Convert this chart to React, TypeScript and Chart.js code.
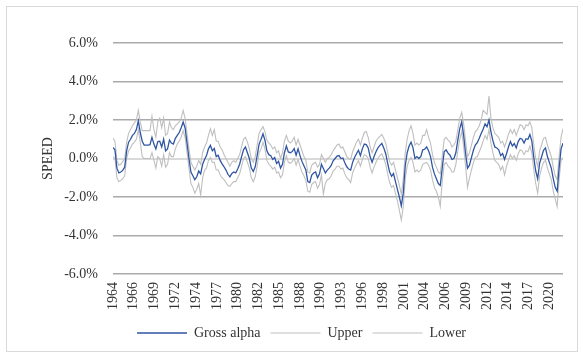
import React, { useEffect, useRef } from "react";
import { Chart, registerables } from "chart.js";

Chart.register(...registerables);

const START_YEAR = 1964;
const TICK_LABELS = [
  "1964", "1966", "1969", "1972", "1974", "1977", "1980", "1982", "1985", "1988", "1990",
  "1993", "1996", "1998", "2001", "2004", "2006", "2009", "2012", "2014", "2017", "2020",
];
const Y_TICKS = [-6, -4, -2, 0, 2, 4, 6];

// Quarterly values, one row per year (1964 .. 2021)
const GROSS_ALPHA = [
  0.57, 0.45, -0.5, -0.75,
  -0.7, -0.62, -0.45, 0.4,
  0.85, 1.0, 1.2, 1.3,
  1.5, 1.95, 1.35, 0.9,
  0.7, 0.7, 0.7, 0.72,
  1.1, 0.75, 0.5, 0.88,
  0.9, 0.6, 1.0, 0.4,
  0.5, 0.95, 0.8, 0.75,
  1.05, 1.2, 1.35, 1.6,
  1.9, 1.6, 0.8, 0.0,
  -0.7, -0.9, -1.1, -0.95,
  -0.65, -0.8, -0.3, -0.05,
  0.15, 0.5, 0.68, 0.4,
  0.52, 0.1, 0.17, -0.1,
  -0.28, -0.43, -0.6, -0.82,
  -0.95, -0.78, -0.7, -0.75,
  -0.55, -0.3, 0.1, 0.45,
  0.6, 0.3, 0.0, -0.5,
  -0.68, -0.43, 0.15, 0.75,
  1.0, 1.28, 0.95, 0.4,
  0.2, 0.15, -0.05, 0.05,
  -0.26, -0.15, -0.5, -0.3,
  0.3, 0.65, 0.34, 0.3,
  0.36, 0.52, 0.17, 0.5,
  0.15, -0.15, -0.38, -0.6,
  -1.2, -1.25, -0.86, -0.75,
  -0.7, -1.0, -0.8, -0.3,
  -0.52, -0.75, -0.6, -0.5,
  -0.36, -0.12, 0.0, 0.12,
  0.15, 0.0, 0.03, -0.22,
  -0.43, -0.55, -0.6, -0.2,
  0.05, 0.25, 0.43, 0.15,
  0.5, 0.75, 0.72, 0.55,
  0.09, -0.2, 0.1, 0.35,
  0.55, 0.68, 0.78, 0.55,
  0.25, -0.25, -0.7, -0.92,
  -0.78, -1.2, -1.6, -2.0,
  -2.45, -1.8, -0.4, 0.3,
  0.65, 0.85, 0.55, 0.0,
  0.1, 0.0, 0.1, 0.45,
  0.48, 0.6, 0.4, 0.1,
  -0.45, -0.8, -1.05, -1.3,
  -1.4, -0.5, 0.35, 0.45,
  0.28, 0.17, -0.05, 0.0,
  0.3, 0.95, 1.55, 1.9,
  1.2, 0.25, -0.5, -0.35,
  0.05, 0.43, 0.7, 0.82,
  1.05, 1.3, 1.52, 1.8,
  1.65, 2.0, 1.4, 0.93,
  0.6, 0.55, 0.45, 0.15,
  0.26, -0.05, 0.25, 0.6,
  0.88, 0.65, 0.78, 0.55,
  0.88, 1.05, 1.0, 0.8,
  1.03, 1.0, 1.25, 0.9,
  0.05, -0.65, -1.05, -0.25,
  0.09, 0.43, 0.55, 0.1,
  -0.2, -0.5, -1.05, -1.5,
  -1.7, -0.5, 0.5, 0.8,
];

const UPPER = [
  1.05, 0.9, -0.1, -0.35,
  -0.3, -0.15, 0.0, 0.85,
  1.3, 1.5, 1.7, 1.85,
  2.0, 2.5, 1.9, 1.45,
  1.45, 1.45, 1.45, 1.45,
  2.2, 1.5, 1.1, 1.9,
  2.1, 1.6, 2.1, 1.2,
  1.3, 1.9, 1.6, 1.5,
  1.7, 1.8, 1.9, 2.1,
  2.5, 2.1, 1.3, 0.5,
  -0.2, -0.4, -0.6, -0.4,
  -0.1, -0.3, 0.3, 0.6,
  0.8, 1.2, 1.55, 1.2,
  1.5, 0.9, 0.9, 0.6,
  0.45, 0.2, 0.0, -0.2,
  -0.4, -0.2, -0.1, -0.2,
  0.0, 0.2, 0.6, 1.0,
  1.1, 0.85, 0.5, 0.0,
  -0.2, 0.1, 0.7, 1.3,
  1.5, 1.65, 1.4, 0.95,
  0.8, 0.7, 0.5, 0.6,
  0.3, 0.4, 0.0, 0.3,
  0.9, 1.2, 0.9, 0.8,
  0.9, 1.1, 0.7, 1.0,
  0.7, 0.4, 0.1, -0.1,
  -0.7, -0.75, -0.35, -0.25,
  -0.2, -0.45, -0.3, 0.2,
  0.0, -0.2, 0.0, 0.05,
  0.2, 0.4, 0.55, 0.7,
  0.75, 0.55, 0.6, 0.35,
  0.1, 0.0, -0.05, 0.35,
  0.6, 0.85, 1.0, 0.7,
  1.05, 1.35, 1.4, 1.1,
  0.6, 0.3, 0.6, 0.9,
  1.05, 1.15, 1.25, 1.05,
  0.8, 0.3, -0.15, -0.35,
  -0.2, -0.6, -1.0, -1.4,
  -1.85, -1.1, 0.3, 1.0,
  1.45, 1.7, 1.3, 0.7,
  0.8, 0.7, 0.8, 1.2,
  1.2, 1.5, 1.1, 0.8,
  0.2, -0.2, -0.45, -0.7,
  -0.8, 0.1, 1.0, 1.1,
  0.95, 0.85, 0.6, 0.7,
  0.9, 1.5, 2.1, 2.4,
  1.8, 0.9, 0.1, 0.3,
  0.7, 1.1, 1.4, 1.5,
  1.7, 2.0, 2.5, 2.4,
  2.3, 3.25, 2.1, 1.6,
  1.3, 1.2, 1.1, 0.8,
  0.9, 0.6, 0.9, 1.25,
  1.5, 1.3, 1.5, 1.2,
  1.5, 1.75, 1.7, 1.5,
  1.75, 1.7, 1.9, 1.6,
  0.7, 0.0, -0.4, 0.4,
  0.7, 1.05, 1.1, 0.7,
  0.4, 0.1, -0.45, -0.9,
  -1.1, 0.1, 1.1, 1.55,
];

const LOWER = [
  0.1, 0.0, -1.0, -1.2,
  -1.15, -1.05, -0.9, 0.0,
  0.4, 0.55, 0.75, 0.85,
  1.0, 1.5, 0.85, 0.1,
  0.0, 0.0, 0.0, 0.0,
  0.3, -0.1, -0.5, 0.1,
  0.0, -0.4, 0.2, -0.45,
  -0.3, 0.3, 0.1, 0.1,
  0.5, 0.75, 0.9, 1.1,
  1.45, 1.1, 0.3, -0.5,
  -1.3, -1.5, -1.8, -1.6,
  -1.3, -1.9, -1.0, -0.6,
  -0.5, -0.1, 0.05, -0.2,
  -0.2, -0.6, -0.6, -0.85,
  -1.0, -1.1, -1.25, -1.4,
  -1.45, -1.3, -1.2, -1.2,
  -1.0, -0.8, -0.4, 0.0,
  0.1, -0.2, -0.5, -1.0,
  -1.2, -0.95, -0.4, 0.3,
  0.5, 0.85, 0.5, -0.1,
  -0.3, -0.4, -0.55, -0.45,
  -0.75, -0.7, -1.0, -0.85,
  -0.2, 0.15, -0.2, -0.25,
  -0.15, 0.0, -0.35, -0.05,
  -0.4, -0.7, -0.9, -1.15,
  -1.7, -1.75, -1.35, -1.25,
  -1.2, -1.55, -1.35, -0.85,
  -1.85, -1.3, -1.1, -1.05,
  -0.9, -0.65, -0.55, -0.4,
  -0.4, -0.55, -0.5, -0.8,
  -1.0, -1.1, -1.25, -0.75,
  -0.5, -0.3, -0.1, -0.4,
  -0.05, 0.2, 0.15, 0.0,
  -0.45, -0.75, -0.45, -0.2,
  0.0, 0.15, 0.25, 0.0,
  -0.3, -0.8, -1.25, -1.5,
  -1.4, -1.8, -2.2, -2.7,
  -3.2, -2.5, -1.1, -0.4,
  -0.1, 0.05, -0.2, -0.7,
  -0.6, -0.7, -0.6, -0.3,
  -0.25, -0.2, -0.35, -0.6,
  -1.1, -1.5, -1.7, -2.0,
  -2.5, -1.2, -0.3, -0.2,
  -0.4, -0.5, -0.7, -0.7,
  -0.3, 0.4, 1.0, 1.4,
  0.6, -0.4, -1.5, -1.0,
  -0.6, -0.2, 0.05, 0.1,
  0.35, 0.6, 0.9, 1.2,
  1.0, 1.5, 0.8, 0.3,
  -0.1, -0.2, -0.3, -0.6,
  -0.4, -0.85, -0.4, -0.1,
  0.2, 0.0, 0.15, -0.1,
  0.25, 0.45, 0.4, 0.2,
  0.4, 0.35, 0.65, 0.3,
  -0.6, -1.3, -1.8, -0.9,
  -0.5, -0.2, -0.1, -0.5,
  -0.8, -1.1, -1.7, -2.1,
  -2.5, -1.1, -0.1, 0.05,
];

const FONT = "'Liberation Serif', 'Times New Roman', serif";
const TEXT = "#333333";

const toPoints = (arr: number[]) => arr.map((v, i) => ({ x: START_YEAR + i / 4, y: v }));

export default function App() {
  const ref = useRef<HTMLCanvasElement | null>(null);

  useEffect(() => {
    document.body.style.margin = "0";
    if (!ref.current) return;
    const lastX = START_YEAR + (GROSS_ALPHA.length - 1) / 4;
    const chart = new Chart(ref.current, {
      type: "line",
      data: {
        datasets: [
          { label: "Gross alpha", data: toPoints(GROSS_ALPHA), borderColor: "#2f55a3", backgroundColor: "#2f55a3", borderWidth: 1.3 },
          { label: "Upper", data: toPoints(UPPER), borderColor: "#bfbfbf", backgroundColor: "#bfbfbf", borderWidth: 1.1 },
          { label: "Lower", data: toPoints(LOWER), borderColor: "#bfbfbf", backgroundColor: "#bfbfbf", borderWidth: 1.1 },
        ],
      },
      options: {
        animation: false,
        responsive: false,
        maintainAspectRatio: false,
        elements: { point: { radius: 0 }, line: { tension: 0 } },
        layout: { padding: { left: 40, right: 20, top: 43, bottom: 4 } },
        plugins: {
          tooltip: { enabled: false },
          legend: {
            position: "bottom",
            labels: {
              usePointStyle: true,
              pointStyle: "line",
              pointStyleWidth: 50,
              boxHeight: 14,
              padding: 10,
              color: TEXT,
              font: { family: FONT, size: 14 },
            },
          },
        },
        scales: {
          x: {
            type: "linear",
            min: START_YEAR,
            max: lastX,
            grid: { display: false, drawTicks: false },
            border: { display: false },
            afterBuildTicks: (scale: any) => {
              scale.ticks = TICK_LABELS.map((_, k) => ({ value: START_YEAR + (k * 8) / 3 }));
            },
            afterFit: (scale: any) => {
              scale.height = 42;
            },
            ticks: {
              autoSkip: false,
              minRotation: 90,
              maxRotation: 90,
              padding: 8,
              color: TEXT,
              font: { family: FONT, size: 14 },
              callback: (_v: any, i: number) => TICK_LABELS[i],
            },
          },
          y: {
            min: -6,
            max: 6,
            afterBuildTicks: (scale: any) => {
              scale.ticks = Y_TICKS.map((v) => ({ value: v }));
            },
            afterFit: (scale: any) => {
              scale.width = 73;
            },
            border: { display: false },
            grid: {
              drawTicks: false,
              color: (ctx: any) => (ctx.tick && ctx.tick.value === 0 ? "#d9d9d9" : "#aaaaaa"),
              lineWidth: (ctx: any) => (ctx.tick && ctx.tick.value === 0 ? 2 : 1.5),
            },
            ticks: {
              padding: 15,
              color: TEXT,
              font: { family: FONT, size: 14 },
              callback: (v: any) => Number(v).toFixed(1) + "%",
            },
            title: {
              display: true,
              text: "SPEED",
              color: TEXT,
              padding: 0,
              font: { family: FONT, size: 14 },
            },
          },
        },
      },
    });
    return () => chart.destroy();
  }, []);

  return (
    <div style={{ position: "relative", width: 583, height: 354 }}>
      <div
        style={{
          position: "absolute",
          left: 6,
          top: 6,
          width: 572,
          height: 346,
          border: "1px solid #d9d9d9",
          boxSizing: "border-box",
        }}
      />
      <canvas ref={ref} width={583} height={354} style={{ position: "absolute", left: 0, top: 0 }} />
    </div>
  );
}
